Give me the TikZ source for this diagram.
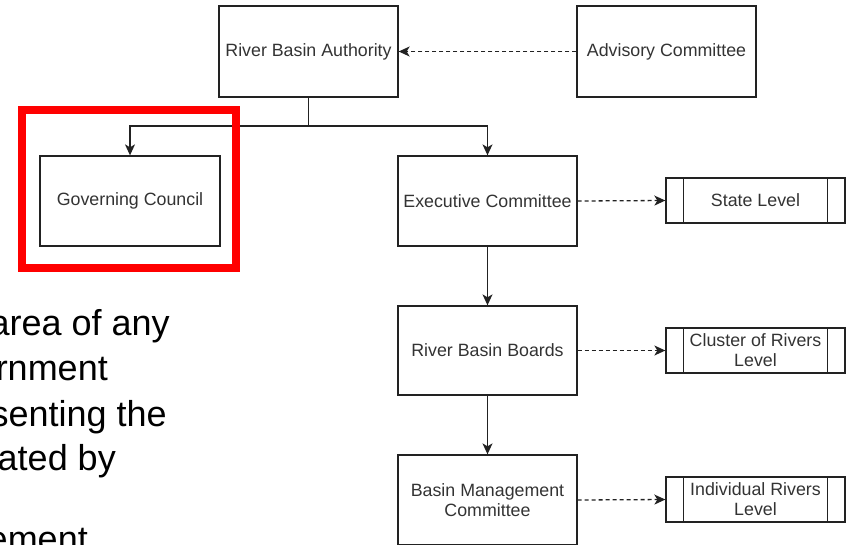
\documentclass[tikz,border=0pt]{standalone}
\usepackage{fontspec}
\setmainfont{Liberation Sans}
\usetikzlibrary{arrows.meta}
\definecolor{boxline}{HTML}{222222}
\definecolor{boxtext}{HTML}{333333}
\tikzset{
  orgbox/.style={draw=boxline, line width=1.3pt, rectangle, minimum width=179pt, minimum height=90pt,
    inner sep=0pt, text=boxtext, font=\fontsize{17.8}{20}\selectfont, align=center},
  lvlbox/.style={draw=boxline, line width=1.3pt, rectangle, minimum width=179pt, minimum height=45pt,
    inner sep=0pt, text=boxtext, font=\fontsize{17.8}{20}\selectfont, align=center},
  solidarr/.style={draw=boxline, line width=1.3pt, -{Stealth[length=11pt,width=10pt,inset=3pt]}},
  dasharr/.style={draw=boxline, line width=1.3pt, dash pattern=on 4pt off 3pt, -{Stealth[length=11pt,width=10pt,inset=3pt]}},
  plainline/.style={draw=boxline, line width=1.3pt},
  bigtext/.style={anchor=base east, inner sep=0pt, text=black, font=\fontsize{36}{42}\selectfont},
  redframe/.style={draw={rgb,255:red,255;green,0;blue,0}, line width=8pt}
}
\begin{document}
\begin{tikzpicture}[x=1pt,y=-1pt]
\useasboundingbox (0,0) rectangle (848,544);
% boxes
\node[orgbox, minimum height=91pt] (rba) at (308.5,51.5) {River Basin Authority};
\node[orgbox, minimum height=91pt] (adv) at (666.5,51.5) {Advisory Committee};
\node[orgbox, minimum width=180pt] (gc) at (130,201) {Governing Council};
\node[orgbox] (exec) at (487.5,201) {Executive Committee};
\node[orgbox, minimum height=89pt] (rbb) at (487.5,350.5) {River Basin Boards};
\node[orgbox] (bmc) at (487.5,500) {Basin Management\\Committee};
\node[lvlbox] (state) at (755.5,200.5) {State Level};
\node[lvlbox] (clus) at (755.5,350.5) {Cluster of Rivers\\Level};
\node[lvlbox] (indiv) at (755.5,499.5) {Individual Rivers\\Level};
% process-box inner lines
\foreach \n in {state,clus,indiv}{
  \draw[plainline] ([xshift=18pt]\n.north west) -- ([xshift=18pt]\n.south west);
  \draw[plainline] ([xshift=-18pt]\n.north east) -- ([xshift=-18pt]\n.south east);
}
% connectors
\coordinate (junc) at (308.5,126);
\draw[plainline] (rba.south) -- (junc);
\draw[solidarr] (junc) -| (gc.north);
\draw[solidarr] (junc) -| (exec.north);
\draw[dasharr] (adv.west) -- (rba.east);
\draw[solidarr] (exec.south) -- (rbb.north);
\draw[solidarr] (rbb.south) -- (bmc.north);
\draw[dasharr] (exec.east) -- (state.west);
\draw[dasharr] (rbb.east) -- (clus.west);
\draw[dasharr] (bmc.east) -- (indiv.west);
% red highlight frame
\draw[redframe] (22,110) rectangle (236,268);
% left text (cut off at the picture edge, as in the reference)
\node[bigtext] (t1) at (170,335) {area of any};
\node[bigtext] (t2) at (108,380) {rnment};
\node[bigtext] (t3) at (167,426) {senting the};
\node[bigtext] (t4) at (116,470) {ated by};
\node[bigtext] (t5) at (88,551) {ement};
\end{tikzpicture}
\end{document}
